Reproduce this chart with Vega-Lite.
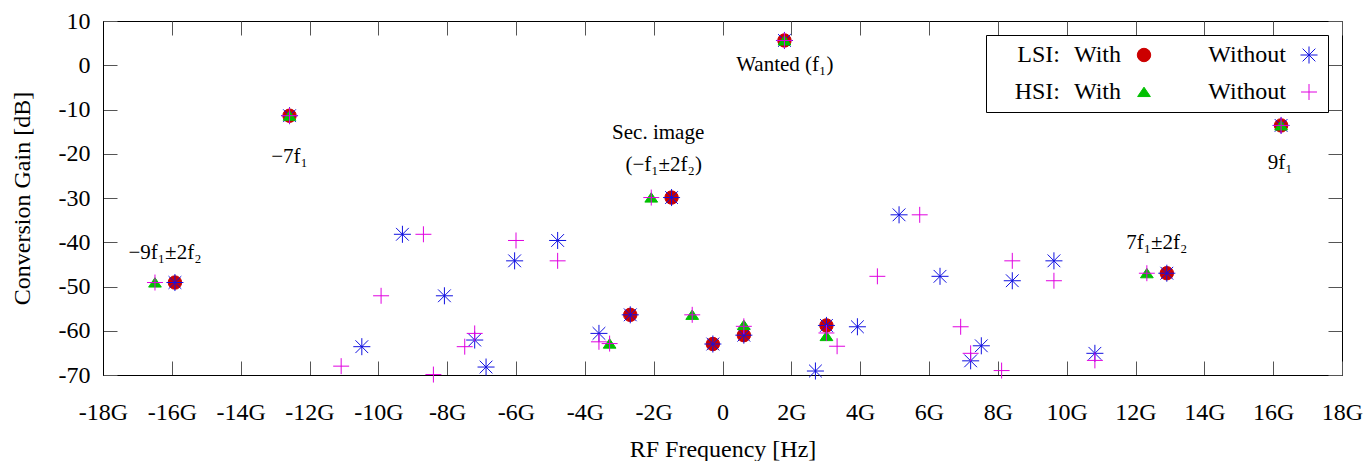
{
  "$schema": "https://vega.github.io/schema/vega-lite/v6.json",
  "width": 1239,
  "height": 354,
  "autosize": {"type": "none"},
  "padding": {"left": 103, "top": 21, "right": 24, "bottom": 86},
  "background": "white",
  "config": {
    "font": "Liberation Serif",
    "view": {"stroke": "black", "strokeWidth": 1},
    "axis": {
      "labelFont": "Liberation Serif",
      "titleFont": "Liberation Serif",
      "labelFontSize": 24,
      "titleFontSize": 24,
      "titleFontWeight": "normal",
      "labelColor": "black",
      "titleColor": "black",
      "domainColor": "black",
      "tickColor": "#555",
      "tickSize": -14,
      "tickWidth": 1,
      "grid": false,
      "labelFlush": false,
      "labelOverlap": false
    }
  },
  "datasets": {
    "points": [
      {"series": "LSI With", "freq": -15.91, "gain": -49.1},
      {"series": "LSI With", "freq": -12.58, "gain": -11.4},
      {"series": "LSI With", "freq": -2.68, "gain": -56.4},
      {"series": "LSI With", "freq": -1.48, "gain": -29.9},
      {"series": "LSI With", "freq": -0.28, "gain": -63.0},
      {"series": "LSI With", "freq": 0.62, "gain": -61.0},
      {"series": "LSI With", "freq": 1.8, "gain": 5.6},
      {"series": "LSI With", "freq": 3.02, "gain": -58.8},
      {"series": "LSI With", "freq": 12.91, "gain": -47.0},
      {"series": "LSI With", "freq": 16.23, "gain": -13.6},
      {"series": "LSI Without", "freq": -15.91, "gain": -49.1},
      {"series": "LSI Without", "freq": -12.58, "gain": -11.4},
      {"series": "LSI Without", "freq": -2.68, "gain": -56.4},
      {"series": "LSI Without", "freq": -1.48, "gain": -29.9},
      {"series": "LSI Without", "freq": -0.28, "gain": -63.0},
      {"series": "LSI Without", "freq": 0.62, "gain": -61.0},
      {"series": "LSI Without", "freq": 1.8, "gain": 5.6},
      {"series": "LSI Without", "freq": 3.02, "gain": -58.8},
      {"series": "LSI Without", "freq": 12.91, "gain": -47.0},
      {"series": "LSI Without", "freq": 16.23, "gain": -13.6},
      {"series": "LSI Without", "freq": -10.48, "gain": -63.6},
      {"series": "LSI Without", "freq": -9.3, "gain": -38.2},
      {"series": "LSI Without", "freq": -8.08, "gain": -52.1},
      {"series": "LSI Without", "freq": -7.2, "gain": -62.1},
      {"series": "LSI Without", "freq": -6.87, "gain": -68.2},
      {"series": "LSI Without", "freq": -6.04, "gain": -44.2},
      {"series": "LSI Without", "freq": -4.79, "gain": -39.6},
      {"series": "LSI Without", "freq": -3.59, "gain": -60.6},
      {"series": "LSI Without", "freq": 2.7, "gain": -69.1},
      {"series": "LSI Without", "freq": 3.92, "gain": -59.1},
      {"series": "LSI Without", "freq": 5.13, "gain": -33.8},
      {"series": "LSI Without", "freq": 6.32, "gain": -47.7},
      {"series": "LSI Without", "freq": 7.21, "gain": -66.8},
      {"series": "LSI Without", "freq": 7.52, "gain": -63.4},
      {"series": "LSI Without", "freq": 8.42, "gain": -48.7},
      {"series": "LSI Without", "freq": 9.63, "gain": -44.2},
      {"series": "LSI Without", "freq": 10.82, "gain": -65.1},
      {"series": "HSI With", "freq": -16.49, "gain": -49.1},
      {"series": "HSI With", "freq": -12.58, "gain": -11.4},
      {"series": "HSI With", "freq": -3.28, "gain": -62.9},
      {"series": "HSI With", "freq": -2.07, "gain": -29.9},
      {"series": "HSI With", "freq": -0.88, "gain": -56.4},
      {"series": "HSI With", "freq": 0.62, "gain": -58.7},
      {"series": "HSI With", "freq": 1.8, "gain": 5.6},
      {"series": "HSI With", "freq": 3.02, "gain": -61.2},
      {"series": "HSI With", "freq": 12.33, "gain": -47.0},
      {"series": "HSI With", "freq": 16.23, "gain": -13.6},
      {"series": "HSI Without", "freq": -16.49, "gain": -49.1},
      {"series": "HSI Without", "freq": -12.58, "gain": -11.4},
      {"series": "HSI Without", "freq": -3.28, "gain": -62.9},
      {"series": "HSI Without", "freq": -2.07, "gain": -29.9},
      {"series": "HSI Without", "freq": -0.88, "gain": -56.4},
      {"series": "HSI Without", "freq": 0.62, "gain": -59.0},
      {"series": "HSI Without", "freq": 1.8, "gain": 5.6},
      {"series": "HSI Without", "freq": 3.02, "gain": -60.5},
      {"series": "HSI Without", "freq": 12.33, "gain": -47.0},
      {"series": "HSI Without", "freq": 16.23, "gain": -13.6},
      {"series": "HSI Without", "freq": -11.08, "gain": -68.0},
      {"series": "HSI Without", "freq": -9.92, "gain": -52.1},
      {"series": "HSI Without", "freq": -8.69, "gain": -38.2},
      {"series": "HSI Without", "freq": -8.4, "gain": -69.9},
      {"series": "HSI Without", "freq": -7.49, "gain": -63.6},
      {"series": "HSI Without", "freq": -7.2, "gain": -60.6},
      {"series": "HSI Without", "freq": -6.0, "gain": -39.6},
      {"series": "HSI Without", "freq": -4.79, "gain": -44.2},
      {"series": "HSI Without", "freq": -3.59, "gain": -62.5},
      {"series": "HSI Without", "freq": 3.33, "gain": -63.5},
      {"series": "HSI Without", "freq": 4.5, "gain": -47.7},
      {"series": "HSI Without", "freq": 5.73, "gain": -33.8},
      {"series": "HSI Without", "freq": 6.92, "gain": -59.1},
      {"series": "HSI Without", "freq": 7.21, "gain": -65.1},
      {"series": "HSI Without", "freq": 8.11, "gain": -69.0},
      {"series": "HSI Without", "freq": 8.42, "gain": -44.2},
      {"series": "HSI Without", "freq": 9.63, "gain": -48.7},
      {"series": "HSI Without", "freq": 10.82, "gain": -66.7}
    ],
    "notes": [
      {"fx": -16.2, "gy": -42.4, "label": "−9f₁±2f₂"},
      {"fx": -12.58, "gy": -20.7, "label": "−7f₁"},
      {"fx": -1.87, "gy": -15.2, "label": "Sec. image"},
      {"fx": -1.71, "gy": -22.6, "label": "(−f₁±2f₂)"},
      {"fx": 1.81, "gy": 0.0, "label": "Wanted (f₁)"},
      {"fx": 12.62, "gy": -40.2, "label": "7f₁±2f₂"},
      {"fx": 16.2, "gy": -22.1, "label": "9f₁"}
    ]
  },
  "layer": [
    {
      "data": {"name": "points"},
      "mark": {"type": "point", "filled": false, "size": 180, "strokeWidth": 1, "opacity": 1},
      "encoding": {
        "x": {
          "field": "freq", "type": "quantitative",
          "scale": {"domain": [-18, 18], "nice": false, "zero": false},
          "axis": {
            "orient": "bottom",
            "values": [-18, -16, -14, -12, -10, -8, -6, -4, -2, 0, 2, 4, 6, 8, 10, 12, 14, 16, 18],
            "labelExpr": "datum.value == 0 ? '0' : datum.value + 'G'",
            "title": "RF Frequency [Hz]",
            "labelPadding": 39,
            "titlePadding": 13
          }
        },
        "y": {
          "field": "gain", "type": "quantitative",
          "scale": {"domain": [-70, 10], "nice": false, "zero": false},
          "axis": {
            "orient": "left",
            "values": [-70, -60, -50, -40, -30, -20, -10, 0, 10],
            "labelExpr": "'' + datum.value",
            "title": "Conversion Gain [dB]",
            "labelPadding": 27,
            "titlePadding": 24
          }
        },
        "color": {
          "field": "series", "type": "nominal",
          "scale": {
            "domain": ["LSI With", "LSI Without", "HSI With", "HSI Without"],
            "range": ["#cc0000", "#1010e0", "#00c000", "#e000e0"]
          },
          "legend": {
            "title": null,
            "orient": "top-right",
            "offset": 14,
            "direction": "horizontal",
            "columns": 2,
            "labelFont": "Liberation Serif",
            "labelFontSize": 24,
            "labelColor": "black",
            "labelAlign": "right",
            "labelOffset": -35,
            "symbolOffset": 138,
            "labelLimit": 0,
            "strokeColor": "black",
            "fillColor": "white",
            "padding": 8,
            "rowPadding": 13,
            "columnPadding": 6,
            "symbolSize": 180,
            "symbolStrokeWidth": 1,
            "labelExpr": "datum.label == 'LSI With' ? 'LSI:\u00a0\u00a0\u200aWith' : datum.label == 'HSI With' ? 'HSI:\u00a0\u00a0\u200aWith' : 'Without'"
          }
        },
        "fill": {
          "field": "series", "type": "nominal",
          "scale": {
            "domain": ["LSI With", "LSI Without", "HSI With", "HSI Without"],
            "range": ["#cc0000", "transparent", "#00c000", "transparent"]
          }
        },
        "shape": {
          "field": "series", "type": "nominal",
          "scale": {
            "domain": ["LSI With", "LSI Without", "HSI With", "HSI Without"],
            "range": [
              "circle",
              "M-1.27,0L1.27,0M0,-1.27L0,1.27M-0.95,-0.95L0.95,0.95M-0.95,0.95L0.95,-0.95",
              "M0,-0.72L0.95,0.68L-0.95,0.68Z",
              "M-1.19,0L1.19,0M0,-1.19L0,1.19"
            ]
          }
        }
      }
    },
    {
      "data": {"name": "notes"},
      "mark": {"type": "text", "font": "Liberation Serif", "fontSize": 21, "align": "center", "baseline": "middle", "color": "black"},
      "encoding": {
        "x": {
          "field": "fx", "type": "quantitative",
          "axis": {
            "orient": "top", "labels": false, "title": null, "domain": false,
            "values": [-18, -16, -14, -12, -10, -8, -6, -4, -2, 0, 2, 4, 6, 8, 10, 12, 14, 16, 18]
          }
        },
        "y": {
          "field": "gy", "type": "quantitative",
          "axis": {
            "orient": "right", "labels": false, "title": null, "domain": false,
            "values": [-70, -60, -50, -40, -30, -20, -10, 0, 10]
          }
        },
        "text": {"field": "label"}
      }
    }
  ],
  "resolve": {"axis": {"x": "independent", "y": "independent"}}
}
